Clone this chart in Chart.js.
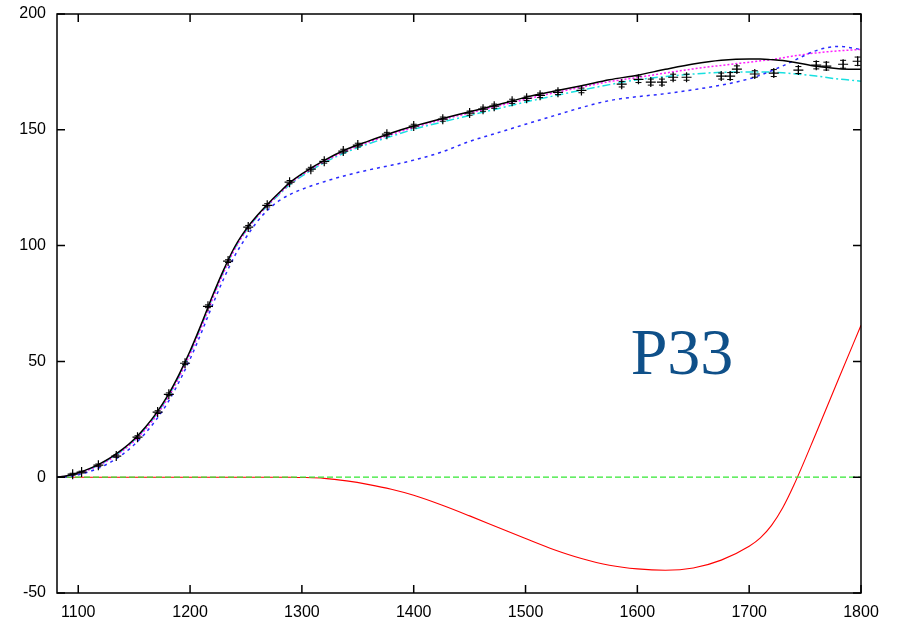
<!DOCTYPE html>
<html>
<head>
<meta charset="utf-8">
<script src="https://cdn.jsdelivr.net/npm/chart.js@4.4.1/dist/chart.umd.min.js"></script>
<style>
  html, body { margin: 0; padding: 0; background: #ffffff; }
  #wrap { width: 901px; height: 621px; }
</style>
</head>
<body>
<div id="wrap"><canvas id="chart"></canvas></div>
<script>
"use strict";

const xTicks = [1100, 1200, 1300, 1400, 1500, 1600, 1700, 1800];
const yTicks = [-50, 0, 50, 100, 150, 200];

// measured points with error bars
const dataX = [1095, 1103, 1118, 1134, 1153, 1171, 1181, 1195.5, 1216, 1234, 1252, 1269, 1289,
    1308, 1320, 1337, 1350, 1376, 1400, 1426, 1450, 1462, 1472, 1488, 1501, 1513, 1529, 1550,
    1586, 1601, 1612, 1622, 1632, 1644, 1675, 1683, 1689, 1705, 1722, 1744, 1760, 1769, 1784, 1797];
const dataY = [1.3, 2.2, 5.2, 9.1, 17.3, 28.1, 35.8, 49.2, 73.8, 93.3, 108, 117.4, 127.4,
    133, 136.4, 140.8, 143.4, 148.1, 151.6, 154.6, 157.2, 158.9, 160.2, 162.3, 163.6, 164.9, 166.2, 167,
    169.7, 171.8, 170.6, 170.6, 172.7, 172.7, 173.2, 173.2, 176.2, 174.1, 174.5, 175.8, 177.9, 177.5, 178.3, 179.6];
const dataErr = [0.4, 0.4, 0.5, 0.5, 0.6, 0.6, 0.6, 0.6, 0.6, 0.6, 0.7, 0.7, 0.7,
    0.8, 0.8, 0.8, 0.8, 0.8, 0.8, 0.9, 0.9, 0.9, 0.9, 0.9, 0.9, 1.0, 1.0, 1.0,
    1.2, 1.4, 1.3, 1.3, 1.3, 1.3, 1.3, 1.5, 1.4, 1.4, 1.5, 1.5, 1.6, 1.7, 1.7, 1.8];

// model curves, all sampled on the same energies
const curveX = [1081, 1090, 1100, 1110, 1120, 1130, 1140, 1150, 1160, 1170, 1180, 1190, 1200,
    1210, 1220, 1230, 1240, 1250, 1260, 1270, 1280, 1290, 1300, 1320, 1340, 1360, 1380, 1400,
    1425, 1450, 1475, 1500, 1525, 1550, 1575, 1600, 1625, 1650, 1675, 1700, 1710, 1720, 1730, 1740,
    1760, 1780, 1800];
const blackY = [0, 0.6, 1.9, 3.7, 6.0, 8.8, 12.2, 16.4, 21.6, 27.8, 35.2, 44.2, 54.5,
    66, 78.2, 89.5, 99.5, 107, 113, 118.2, 123, 127.5, 131, 136.8, 141.6, 145.2, 148.6, 151.6,
    154.8, 157.8, 160.8, 164, 166.6, 169, 171.6, 173.6, 176.1, 178.4, 180, 180.6, 180.6, 180.3, 179.9, 179.2,
    177.4, 176.4, 176.1];
const magentaY = [0, 0.5, 1.6, 3.3, 5.5, 8.2, 11.5, 15.6, 20.6, 26.7, 34, 43, 53.2,
    64.6, 76.8, 88.3, 98.5, 106.3, 112.5, 117.7, 122.5, 127, 130.5, 136.3, 141, 144.7, 148, 151,
    154.3, 157.3, 160.2, 163.2, 165.9, 168.4, 170.8, 172.6, 174.5, 176.3, 177.8, 179.2, 179.8, 180.3, 181.1, 181.9,
    183.2, 184.1, 184.7];
const cyanY = [0, 0.5, 1.7, 3.4, 5.6, 8.4, 11.8, 16, 21.1, 27.2, 34.5, 43.4, 53.7,
    65.3, 77.5, 88.8, 98.8, 106.4, 112.4, 117.5, 122.2, 126.6, 130, 135.8, 140.4, 144, 147.2, 150.2,
    153.3, 156.2, 159.1, 162, 164.6, 167.1, 169.5, 171.6, 173, 174.1, 174.8, 175, 175, 174.9, 174.6, 174.2,
    173.2, 171.9, 171];
const blueY = [0, 0.2, 1.0, 2.4, 4.3, 6.8, 10, 14, 19, 25, 32.2, 41, 51,
    62.3, 74.3, 85.6, 95.6, 103.5, 110.3, 115.6, 119.5, 122.2, 124.3, 127.6, 130.4, 132.7, 134.7, 136.9,
    140.4, 145, 148.7, 152.4, 156, 159.6, 162.6, 164.3, 165.6, 167.3, 169.3, 172, 173.6, 175.5, 177.6, 179.9,
    184.2, 186, 184.7];
const redY = [0, 0, 0, 0, 0, 0, 0, 0, 0, 0, 0, 0, 0,
    0, 0, 0, 0, 0, 0, 0, 0, 0, -0.1, -0.5, -1.6, -3.2, -5.2, -7.8,
    -12, -16.7, -21.6, -26.5, -31.2, -35.1, -38, -39.6, -40.2, -39.2, -35.8, -29.8, -26.2, -20.8, -13.2, -3.4,
    19.2, 42.5, 65.6];
const zeroX = [1081, 1800];
const zeroY = [0, 0];

const labelText = "P33";
const labelPos = [1594, 44.5];

function toPoints(xs, ys) {
    return xs.map((x, i) => ({x: x, y: ys[i]}));
}

function lineSet(ys, color, dash, width) {
    return {
        type: "line",
        data: toPoints(curveX, ys),
        borderColor: color,
        borderWidth: width,
        borderDash: dash,
        pointRadius: 0,
        cubicInterpolationMode: "monotone",
        fill: false
    };
}

const framePlugin = {
    id: "frame",
    afterDatasetsDraw(chart) {
        const ctx = chart.ctx;
        const area = chart.chartArea;
        const xs = chart.scales.x;
        const ys = chart.scales.y;

        // error bars of the measured points
        ctx.save();
        ctx.strokeStyle = "#000000";
        ctx.lineWidth = 1;
        dataX.forEach((x, i) => {
            const px = xs.getPixelForValue(x);
            const top = ys.getPixelForValue(dataY[i] + dataErr[i]);
            const bot = ys.getPixelForValue(dataY[i] - dataErr[i]);
            ctx.beginPath();
            ctx.moveTo(px, top);
            ctx.lineTo(px, bot);
            ctx.moveTo(px - 3, top);
            ctx.lineTo(px + 3, top);
            ctx.moveTo(px - 3, bot);
            ctx.lineTo(px + 3, bot);
            ctx.stroke();
        });

        // border and inward ticks
        ctx.lineWidth = 1.5;
        ctx.strokeRect(area.left, area.top, area.right - area.left, area.bottom - area.top);
        ctx.beginPath();
        xTicks.forEach(v => {
            const px = xs.getPixelForValue(v);
            ctx.moveTo(px, area.bottom);
            ctx.lineTo(px, area.bottom - 8);
            ctx.moveTo(px, area.top);
            ctx.lineTo(px, area.top + 8);
        });
        yTicks.forEach(v => {
            const py = ys.getPixelForValue(v);
            ctx.moveTo(area.left, py);
            ctx.lineTo(area.left + 8, py);
            ctx.moveTo(area.right, py);
            ctx.lineTo(area.right - 8, py);
        });
        ctx.stroke();

        // panel label
        ctx.fillStyle = "#0f5089";
        ctx.font = "66px 'Liberation Serif', 'DejaVu Serif', serif";
        ctx.textAlign = "left";
        ctx.textBaseline = "alphabetic";
        ctx.fillText(labelText, xs.getPixelForValue(labelPos[0]), ys.getPixelForValue(labelPos[1]));
        ctx.restore();
    }
};

const ctx = document.querySelector("#chart").getContext("2d");
const configuration = {
    type: "line",
    data: {
        datasets: [
            {
                type: "scatter",
                data: toPoints(dataX, dataY),
                pointStyle: "cross",
                pointRadius: 5,
                borderColor: "#000000",
                backgroundColor: "#000000",
                borderWidth: 1.2,
                showLine: false,
                order: 0
            },
            Object.assign(lineSet(blackY, "#000000", [], 1.5), {order: 1}),
            Object.assign(lineSet(blueY, "#2a2aff", [3, 4], 1.5), {order: 2}),
            Object.assign(lineSet(magentaY, "#ff20ff", [2, 2], 1.5), {order: 3}),
            Object.assign(lineSet(cyanY, "#18e0e0", [8, 3, 2, 3], 1.5), {order: 4}),
            {
                type: "line",
                data: toPoints(zeroX, zeroY),
                borderColor: "#33e833",
                borderWidth: 1.2,
                borderDash: [6, 3],
                pointRadius: 0,
                order: 5
            },
            Object.assign(lineSet(redY, "#ff0000", [], 1.1), {order: 6})
        ]
    },
    options: {
        responsive: true,
        maintainAspectRatio: false,
        animation: false,
        layout: {
            padding: {top: 14, right: 40, left: 0, bottom: 0}
        },
        plugins: {
            legend: {display: false},
            tooltip: {enabled: false}
        },
        scales: {
            x: {
                type: "linear",
                min: 1081,
                max: 1800,
                afterBuildTicks: scale => {
                    scale.ticks = xTicks.map(v => ({value: v}));
                },
                afterFit: scale => {
                    scale.height = 28;
                    scale.paddingLeft = 0;
                    scale.paddingRight = 0;
                },
                grid: {display: false, drawTicks: false},
                border: {display: false},
                ticks: {
                    color: "#000000",
                    padding: 10,
                    maxRotation: 0,
                    callback: v => String(v),
                    font: {family: "'Liberation Sans', Arial, sans-serif", size: 16}
                }
            },
            y: {
                type: "linear",
                min: -50,
                max: 200,
                afterBuildTicks: scale => {
                    scale.ticks = yTicks.map(v => ({value: v}));
                },
                afterFit: scale => {
                    scale.width = 57;
                    scale.paddingTop = 0;
                    scale.paddingBottom = 0;
                },
                grid: {display: false, drawTicks: false},
                border: {display: false},
                ticks: {
                    color: "#000000",
                    padding: 11,
                    callback: v => String(v),
                    font: {family: "'Liberation Sans', Arial, sans-serif", size: 16}
                }
            }
        }
    },
    plugins: [framePlugin]
};
new Chart(ctx, configuration); //NOSONAR
</script>
</body>
</html>
